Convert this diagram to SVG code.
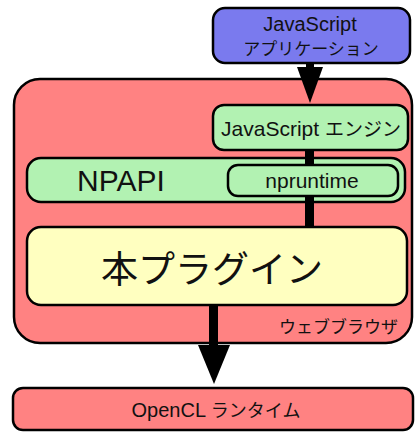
<svg xmlns="http://www.w3.org/2000/svg" width="415" height="432" viewBox="0 0 415 432">
<defs>
<style>
.box{stroke:#000;stroke-width:2.5}
.t{font-family:"Liberation Sans","Noto Sans CJK JP",sans-serif;fill:#111;text-anchor:middle}
</style>
</defs>
<rect width="415" height="432" fill="#fff"/>
<g id="browser">
<rect class="box" x="14" y="79" width="398" height="264" rx="26" fill="#ff8282"/>
<text class="t" x="398" y="333" font-size="17" style="text-anchor:end">ウェブブラウザ</text>
</g>
<g id="jsapp">
<rect class="box" x="213" y="8" width="197" height="55" rx="12" fill="#7a7aee"/>
<text class="t" x="310" y="31" font-size="20">JavaScript</text>
<text class="t" x="311" y="55" font-size="17">アプリケーション</text>
</g>
<g id="jsengine">
<rect class="box" x="213" y="105" width="195" height="45" rx="11" fill="#b2f2b2"/>
<text class="t" x="311" y="136" font-size="19"><tspan font-size="21">JavaScript </tspan>エンジン</text>
</g>
<g id="npapi">
<rect class="box" x="27" y="158" width="378" height="44" rx="14" fill="#b2f2b2"/>
<text class="t" x="121" y="191" font-size="30">NPAPI</text>
</g>
<g id="connectors">
<rect x="306" y="63" width="8" height="6" fill="#000"/>
<polygon points="297,67 323,67 310,103" fill="#000"/>
<rect x="305" y="151" width="9" height="76" fill="#000"/>
<rect x="209" y="306" width="9" height="40" fill="#000"/>
<polygon points="198,345 230,345 214,384" fill="#000"/>
</g>
<g id="npruntime">
<rect class="box" x="228" y="165" width="170" height="31" rx="10" fill="#b2f2b2" stroke-width="2"/>
<text class="t" x="312" y="188" font-size="21">npruntime</text>
</g>
<g id="plugin">
<rect class="box" x="27" y="227" width="380" height="78" rx="14" fill="#ffffc0"/>
<text class="t" x="212" y="283" font-size="37">本プラグイン</text>
</g>
<g id="opencl">
<rect class="box" x="13" y="388" width="400" height="42" rx="10" fill="#ff8282"/>
<text class="t" x="216" y="417" font-size="18"><tspan font-size="20">OpenCL </tspan>ランタイム</text>
</g>
</svg>
